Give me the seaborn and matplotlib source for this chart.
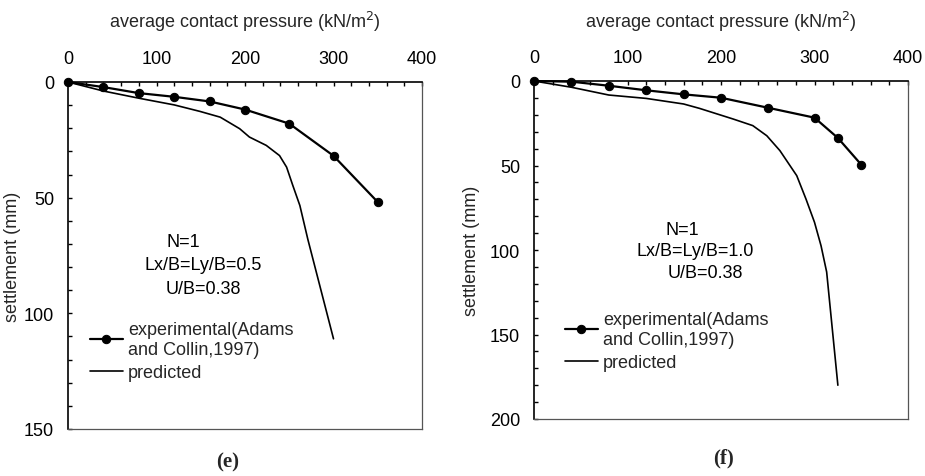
import matplotlib
matplotlib.use("Agg")
import matplotlib.pyplot as plt
import seaborn as sns
import pandas as pd
from matplotlib.ticker import MultipleLocator

sns.set_theme(style="white")
plt.rcParams['font.family'] = ['Liberation Sans', 'DejaVu Sans']

# Panel (e)
exp_e_x = [0, 40, 80, 120, 160, 200, 250, 300, 350]
exp_e_y = [0, 2.2, 4.8, 6.4, 8.4, 11.9, 18, 31.9, 51.9]
pred_e_x = [0, 40, 80, 120, 149, 172, 194, 205, 224, 239, 247, 254, 262, 271, 300]
pred_e_y = [0, 3.9, 7.0, 9.9, 12.7, 15.2, 20.2, 23.8, 27.4, 31.8, 36.8, 44.7, 53.4, 68, 111]

# Panel (f)
exp_f_x = [0, 40, 80, 120, 160, 200, 250, 300, 325, 350]
exp_f_y = [0, 0.4, 2.8, 5.5, 7.9, 9.9, 15.8, 21.7, 33.7, 49.5]
pred_f_x = [0, 40, 80, 120, 160, 177, 213, 234, 249, 263, 281, 291, 300, 307, 313, 325]
pred_f_y = [0, 3.7, 8.3, 10.3, 13.6, 16.2, 22.5, 26.4, 32.4, 41.2, 56, 70, 83.6, 97.5, 113, 180]

xlabel = "average contact pressure (kN/m$^2$)"
ylabel = "settlement (mm)"
leg_exp = "experimental(Adams\nand Collin,1997)"
leg_pred = "predicted"

W, H = 925, 477
fig = plt.figure(figsize=(W / 100, H / 100), dpi=100)

def px_axes(l, r, t, b):
    return fig.add_axes([l / W, 1 - b / H, (r - l) / W, (b - t) / H])

ax_e = px_axes(68, 422, 83, 430)
ax_f = px_axes(534, 908, 82, 420)

FS = 13

def style(ax, ymax, ymajor, l, r, t, b, ylab_x):
    ax.set_xlim(0, 400)
    ax.set_ylim(ymax, 0)
    ax.xaxis.set_major_locator(MultipleLocator(100))
    ax.xaxis.set_minor_locator(MultipleLocator(20))
    ax.yaxis.set_major_locator(MultipleLocator(ymajor))
    ax.yaxis.set_minor_locator(MultipleLocator(10))
    ax.xaxis.tick_top()
    ax.xaxis.set_label_position("top")
    ax.tick_params(axis="x", which="both", direction="in", length=3, width=1,
                   labelsize=FS, pad=11, colors="black", bottom=False, top=True)
    ax.tick_params(axis="y", which="both", direction="in", length=3, width=1,
                   labelsize=FS, pad=10, colors="black", left=True, right=False)
    ax.set_xlabel(xlabel, fontsize=FS)
    ax.set_ylabel(ylabel, fontsize=FS)
    # xlabel anchor = bottom of text; ylabel anchor = right side of rotated text
    ax.xaxis.set_label_coords(0.5, 1 + (t - 28) / (b - t))
    ax.yaxis.set_label_coords((ylab_x + 8 - l) / (r - l), 0.5)
    for s in ["top", "left"]:
        ax.spines[s].set_color("black")
        ax.spines[s].set_linewidth(1.2)
    for s in ["right", "bottom"]:
        ax.spines[s].set_color("#555555")
        ax.spines[s].set_linewidth(0.9)
        ax.spines[s].set_visible(True)
    ax.grid(False)

def draw(ax, ex, ey, prx, pry):
    df_e = pd.DataFrame({"x": ex, "y": ey})
    df_p = pd.DataFrame({"x": prx, "y": pry})
    sns.lineplot(data=df_e, x="x", y="y", ax=ax, color="black", linewidth=1.6,
                 marker="o", markersize=6, markeredgecolor="black",
                 sort=False, label=leg_exp, clip_on=False)
    sns.lineplot(data=df_p, x="x", y="y", ax=ax, color="black", linewidth=1.2,
                 sort=False, label=leg_pred, clip_on=False)

draw(ax_e, exp_e_x, exp_e_y, pred_e_x, pred_e_y)
draw(ax_f, exp_f_x, exp_f_y, pred_f_x, pred_f_y)
style(ax_e, 150, 50, 68, 422, 83, 430, 13)
style(ax_f, 200, 50, 534, 908, 82, 420, 472)

# legends
leg = ax_e.legend(loc="upper left", bbox_to_anchor=((90 - 68) / 354, 1 - (322 - 83) / 347),
                  frameon=False, fontsize=FS, handlelength=1.8, handletextpad=0.3,
                  labelspacing=0.35, borderaxespad=0, borderpad=0)
leg2 = ax_f.legend(loc="upper left", bbox_to_anchor=((565 - 534) / 374, 1 - (312 - 82) / 338),
                   frameon=False, fontsize=FS, handlelength=1.8, handletextpad=0.3,
                   labelspacing=0.35, borderaxespad=0, borderpad=0)

# annotations (positions in axes fraction)
def ann(ax, l, r, t, b, xp, yp, s):
    ax.text((xp - l) / (r - l), 1 - (yp - t) / (b - t), s, transform=ax.transAxes,
            ha="center", va="center", fontsize=FS, color="black")

ann(ax_e, 68, 422, 83, 430, 183, 243, "N=1")
ann(ax_e, 68, 422, 83, 430, 203, 266, "Lx/B=Ly/B=0.5")
ann(ax_e, 68, 422, 83, 430, 203, 290, "U/B=0.38")
ann(ax_f, 534, 908, 82, 420, 682, 231, "N=1")
ann(ax_f, 534, 908, 82, 420, 695, 251, "Lx/B=Ly/B=1.0")
ann(ax_f, 534, 908, 82, 420, 705, 274, "U/B=0.38")

fig.text(228 / W, 1 - 462 / H, "(e)", ha="center", va="center", fontsize=15,
         fontweight="bold", family=["Liberation Serif", "DejaVu Serif"])
fig.text(723 / W, 1 - 458 / H, "(f)", ha="center", va="center", fontsize=15,
         fontweight="bold", family=["Liberation Serif", "DejaVu Serif"])

fig.savefig("out.png", dpi=100, facecolor="white")
